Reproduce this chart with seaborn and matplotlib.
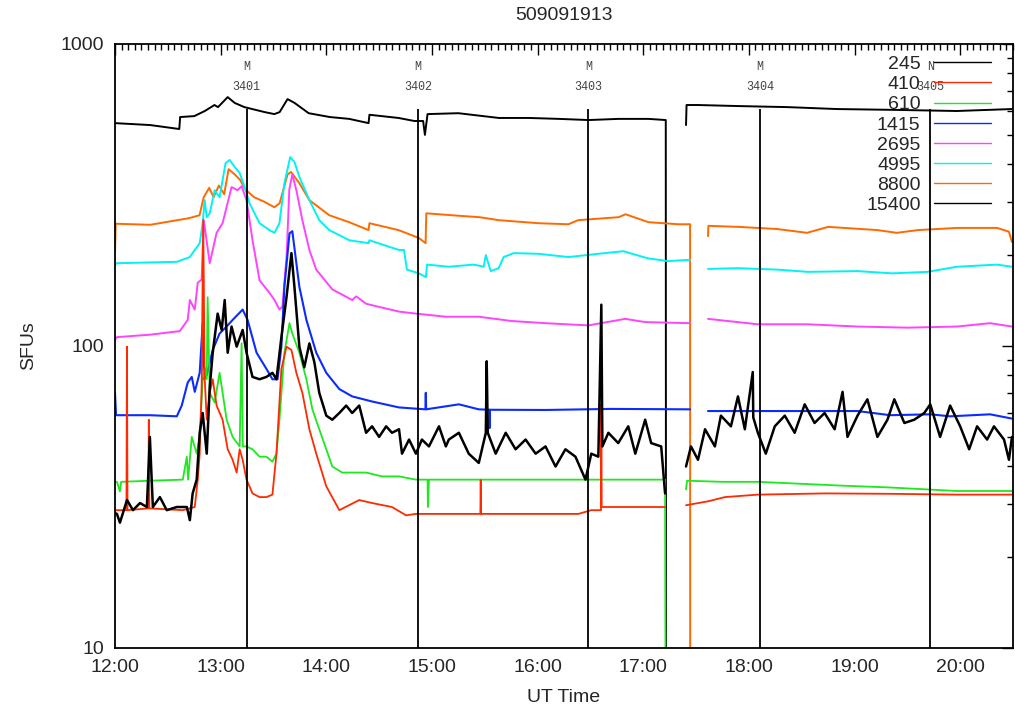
import numpy as np
import pandas as pd
import matplotlib
matplotlib.use("Agg")
import matplotlib.pyplot as plt
import seaborn as sns
from matplotlib.ticker import MultipleLocator, FixedLocator, LogLocator, NullFormatter, FuncFormatter
from matplotlib.transforms import blended_transform_factory
from matplotlib.lines import Line2D

nan = np.nan

# ---- data: (minutes after 12:00 UT, flux in SFU) ----
s245 = [(0,28),(1.1,27.8),(2.8,26.0),(6.8,30.9),(10.2,28.6),(14.2,30.2),(18.1,29.3),(19.8,50),(21.5,29.3),
        (25.5,31.6),(29.4,28.6),(35.1,29.3),(40.8,29.3),(42.5,26.5),(44.1,32.5),(46.4,36.1),(48.1,51.6),
        (49.8,60),(52.1,44),(53.8,73),(55.5,95),(58.3,128),(60.6,113),(62.3,142),(64,95),(66.2,116),
        (69.1,99.5),(72.5,113),(74.7,95),(78.1,79),(82.1,77.6),(86,79),(89.4,81.5),(91.7,77.6),(94.5,107),
        (97.4,145),(100.2,203),(101.9,157),(104.7,99.5),(107.5,85),(110.4,102),(113.2,88.5),(116,70),
        (120,58.8),(123.4,57),(127.4,60),(131.3,63.5),(134.7,60),(138.7,63.5),(142.6,51.6),(146,54.2),
        (150,50),(154,54.2),(157.3,51.6),(161.3,53),(163,44),(167,49),(170.9,44),(174.3,49),(178.3,46.5),
        (184,54.2),(187.9,46.5),(189.6,49),(195.3,51.6),(200.9,44),(206.6,41),(210.6,51.6),(211.1,89),
        (211.7,51.6),(216.2,44),(221.9,51.6),(227.5,45.5),(233.2,49),(238.9,44),(244.5,46.5),(250.2,39.9),
        (255.8,45.5),(261.5,43),(267.2,36.1),(270.5,44),(274.5,43),(276.2,137),(276.8,46.5),(280.2,51.6),
        (285.8,47.7),(291.5,54.2),(295.5,44),(301.1,57),(304.5,47.7),(310.2,46.5),(312.4,32.5),(312.6,nan),
        (324.3,39.9),(327.1,46.5),(331.1,42),(335.1,53),(340.7,46.5),(344.1,58.8),(349.8,54.2),(353.8,68.1),
        (357.7,53),(362.2,82),(362.5,58),(365.1,51.6),(369.6,44),(374.7,54.2),(380.4,58.8),(386,51.6),
        (391.7,64.1),(397.3,55.6),(403,60),(408.7,53),(413.2,70.5),(416,50),(421.7,58.8),(427.3,66.6),
        (433,50),(438.7,57),(442.6,66.6),(448.3,55.6),(453.9,57),(459.6,60),(463,64.1),(468.6,50),
        (474.3,63.5),(480,54.2),(485.1,45.5),(489.6,54.2),(495.3,49),(499.2,54.2),(504.9,49),(507.7,42),
        (509.4,50)]

s410 = [(0,28.6),(6.5,28.6),(6.8,99.5),(7.1,28.6),(19,29),(19.2,57),(19.5,29),(38.5,28.6),(45.3,29.3),
        (47,36.1),(48.1,44),(49.2,73),(50.1,261),(50.9,79),(52.1,57),(53.8,70),(55.5,77.6),(57.7,63.5),
        (61.1,57),(64,45.5),(66.8,42),(69.1,38.1),(70.8,45.5),(72.5,42),(74.7,36.1),(78.1,32.5),(82.1,31.6),
        (86,31.6),(89.4,32.2),(91.7,44),(94.5,84),(97.4,99.5),(100.2,97),(103,81.5),(106.4,70),(110.4,53),
        (114.3,44),(120,34.3),(127.4,28.6),(138.7,30.9),(146,30.2),(157.3,29.3),(165.3,27.5),(170.9,27.8),
        (189.6,27.8),(207.5,27.8),(207.7,36),(207.9,27.8),(263.2,27.8),(270.5,28.6),(276,28.6),(276.2,64),
        (276.4,29.3),(278.5,29.3),(312.4,29.3),(312.6,nan),(324.3,29.7),(336.8,30.6),(346.4,31.6),
        (365.1,32.2),(403,32.5),(440.3,32.4),(478.3,32.2),(509.4,32.2)]

s610 = [(0,35.5),(1.1,35.5),(2.8,33),(3.5,35.5),(19.8,35.8),(38.5,36.1),(40.8,43),(41.5,36.1),(43.6,50),
        (46.4,44),(48.1,50),(49.8,77.6),(50.9,85),(52.1,77.6),(52.6,145),(53.8,70),(56.6,65),(59.4,81.5),
        (63.4,57),(66.8,50),(70.8,46.5),(71.9,102),(72.6,46.5),(74.7,46.5),(78.1,45.5),(82.1,43),(86,43),
        (89.4,41.4),(91.7,44),(93.4,57),(96.2,95),(99.1,119),(100.7,110),(104.7,95),(108.7,77.6),
        (112.1,61.7),(116,53),(120,45.5),(123.4,39.9),(129,38.1),(142.6,38.1),(151.7,37),(161.3,37),
        (170.9,36.1),(177.5,36.1),(177.7,29.3),(178.3,36.1),(206.6,36.1),(263.2,36.1),(312.4,36.1),
        (313,1),(313.1,nan),(324.3,33.5),(324.9,35.8),(345.1,35.5),(365.1,35.5),(412,34.5),(440.3,34),
        (478.3,33.1),(509.4,33.1)]

s1415 = [(0,70),(0.6,59),(19.8,59),(35.1,58.5),(37.9,63.5),(41.3,75.7),(43.6,79),(45.3,70.5),(48.1,81.5),
         (49.8,119),(50.5,77.6),(52.1,80),(55.5,97),(59.4,110),(63.4,116),(66.8,122),(72.5,132),(75.3,122),
         (80.4,95),(86,84),(89.4,77.6),(92.3,77.6),(94.5,99.5),(96.2,157),(99.1,236),(100.7,240),(104.7,157),
         (108.7,122),(114.3,95),(120,81.5),(127.4,72),(134.7,68.1),(146,65.5),(161.3,62.6),(176.3,61.7),
         (176.5,70),(176.7,61.7),(195.3,64.1),(206.6,61.7),(212.7,61.5),(212.8,53.5),(212.9,61.5),
         (244.5,61.4),(281.9,61.9),(326.6,61.7),(326.8,nan),(336.8,60.9),(421.7,60.9),(440.3,59),
         (463,59.4),(474.3,58.5),(497,59.4),(509.4,57.5)]

s2695 = [(0,105),(1.1,107),(19.8,109),(36.8,112),(41.3,122),(42.5,142),(45.3,132),(47,162),(49.2,166),
         (50.4,261),(53.8,188),(57.7,237),(61.1,255),(66.2,336),(69.6,328),(71.9,338),(74.7,304),(78.1,224),
         (82.1,165),(87.7,150),(90.6,142),(93.4,132),(95.1,135),(97.5,200),(99,330),(100.7,370),(103,328),
         (106.4,261),(110.4,208),(114.3,179),(123.4,154),(134.7,142),(137,146),(142.6,138),(151.7,134),
         (161.3,130),(170.9,128),(187.9,125),(206.6,125),(225.3,121),(244.5,119),(268.9,117),(289.8,123),
         (301.1,120),(326.6,119),(326.8,nan),(336.8,123),(365.1,118),(393.4,118),(421.7,116),(450,115),
         (478.3,116),(497,119),(509.4,116)]

s4995 = [(0,186),(1.1,188),(35.1,190),(42.5,197),(45.3,208),(48.1,219),(49.8,255),(50.9,304),(52.1,267),
         (53.8,275),(56.6,328),(59.4,311),(62.8,403),(65.1,413),(67.9,392),(70.8,374),(73.6,336),(76.4,297),
         (82.1,255),(87.7,242),(90.6,237),(93.4,255),(96.2,346),(99.5,422),(101.9,407),(104.7,363),
         (110.4,304),(116,261),(121.7,242),(133,224),(144,219),(144.5,224),(155.7,213),(161.3,208),
         (164.1,208),(165.8,179),(172.6,174),(176.6,169),(177.2,186),(189.6,183),(203.8,186),(209.4,183),
         (210.6,200),(213.4,177),(217.9,181),(220.7,197),(226.4,203),(240.6,202),(257.5,197),(274.5,202),
         (288.7,206),(302.8,195),(314.1,191),(326.6,193),(326.8,nan),(336.8,180),(353.8,181),(376.4,179),
         (393.4,176),(421.7,177),(441.5,174),(461.3,176),(478.3,183),(500.9,186),(509.4,183)]

s8800 = [(0,203),(0.4,254),(20,252),(42,265),(48,271),(50.4,311),(53.5,334),(56,311),(59,340),(62,318),
         (64.5,385),(68,370),(71,355),(74,330),(79,311),(85,300),(90.5,288),(93.5,297),(98,370),(100,377),
         (104.7,346),(110.4,304),(121.7,271),(133,257),(144,242),(144.5,255),(161,242),(172.5,228),
         (176.4,219),(176.8,275),(195,270),(207,267),(218,261),(240.6,255),(257.5,253),(263,261),(286,267),
         (290,273),(303,257),(320,253),(326.6,253),(326.7,1),(326.8,nan),(336.8,231),(337,250),(354,248),
         (376,244),(393,237),(405,248),(433,242),(444,237),(456,242),(478,246),(501,246),(507.7,239),
         (509.4,221)]

s15400 = [(0,547),(20,539),(36.5,523),(37,573),(45,577),(51,600),(56.5,628),(58.5,618),(64,667),(68,638),
          (73.5,618),(85,595),(90.5,586),(93.5,595),(98,657),(102,638),(110,590),(122,573),(133,565),
          (144,547),(144.5,583),(161,569),(170,556),(175,556),(176,500),(177.5,586),(195,590),(218,569),
          (235,569),(252,565),(269,560),(286,565),(303,565),(312.8,560),(313,1),(313.1,nan),(324.3,539),
          (324.6,628),(331,628),(354,623),(382,618),(410,609),(444,605),(478,600),(509.4,609)]

series_names = ["245", "410", "610", "1415", "2695", "4995", "8800", "15400"]
series_data = [s245, s410, s610, s1415, s2695, s4995, s8800, s15400]
series_colors = ["#000000", "#ff2a00", "#1ee81e", "#0a2cff", "#ff44ff", "#00f2f2", "#ff6a00", "#000000"]
series_widths = [1.8, 1.3, 1.3, 1.5, 1.4, 1.4, 1.4, 1.4]

# satellite pass markers
marker_t = [74.7, 172.0, 268.9, 366.2, 463.0]
marker_top = 610
marker_cls = ["M", "M", "M", "M", "N"]
marker_ids = ["3401", "3402", "3403", "3404", "3405"]

title = "509091913"

# ---- style ----
sns.set_style("white")
plt.rcParams['font.family'] = ['Liberation Sans', 'DejaVu Sans']

fig = plt.figure(figsize=(10.15, 7.10), dpi=100)
ax = fig.add_axes([115/1015, 1 - 648/710, 898/1015, (648 - 44)/710])

def to_df(pairs):
    t = np.array([p[0] for p in pairs], float)
    v = np.array([p[1] for p in pairs], float)
    seg = np.cumsum(np.isnan(v))
    return pd.DataFrame({"t": t, "v": v, "seg": seg}).dropna()

draw_order = [7, 6, 5, 4, 3, 2, 1, 0]
for i in draw_order:
    df = to_df(series_data[i])
    sns.lineplot(data=df, x="t", y="v", units="seg", estimator=None, sort=False,
                 color=series_colors[i], lw=series_widths[i], ax=ax, legend=False)

ax.vlines(marker_t, 1, marker_top, color="black", lw=1.3, zorder=3)
trans = blended_transform_factory(ax.transData, ax.transAxes)
for t, c, n in zip(marker_t, marker_cls, marker_ids):
    ax.text(t, 0.962, c, transform=trans, ha="center", va="center",
            family="Liberation Mono", fontsize=8.5, color="#444444")
    ax.text(t, 0.929, n, transform=trans, ha="center", va="center",
            family="Liberation Mono", fontsize=8.5, color="#444444")

ax.set_yscale("log")
ax.set_ylim(10, 1000)
ax.set_xlim(0, 510)
ax.yaxis.set_major_locator(FixedLocator([10, 100, 1000]))
ax.yaxis.set_major_formatter(FuncFormatter(lambda v, p: f"{int(round(v))}"))
ax.yaxis.set_minor_locator(LogLocator(base=10, subs=np.arange(2, 10)))
ax.yaxis.set_minor_formatter(NullFormatter())
ax.xaxis.set_major_locator(MultipleLocator(60))
ax.xaxis.set_major_formatter(FuncFormatter(lambda m, p: f"{12 + int(round(m)) // 60}:00"))
ax.xaxis.set_minor_locator(MultipleLocator(3.75))

ax.tick_params(which="both", direction="in", top=True, right=True, color="black", width=1.0,
               labelsize=14, pad=8)
ax.tick_params(which="major", length=8)
ax.tick_params(which="minor", length=4)
for sp in ax.spines.values():
    sp.set_color("black")
    sp.set_linewidth(1.3)

ax.set_xlabel("UT Time", fontsize=14, labelpad=9)
ax.set_ylabel("SFUs", fontsize=14, labelpad=17)
ax.set_title(title, fontsize=14, pad=17)

handles = [Line2D([], [], color=c, lw=1.0) for c in series_colors]
leg = ax.legend(handles, series_names, loc="upper right", bbox_to_anchor=(0.975, 0.981),
                frameon=False, markerfirst=False, fontsize=14, handlelength=2.9,
                handletextpad=0.7, labelspacing=0.13, borderpad=0, borderaxespad=0)
leg.set_zorder(5)

fig.savefig("out.png", dpi=100)
